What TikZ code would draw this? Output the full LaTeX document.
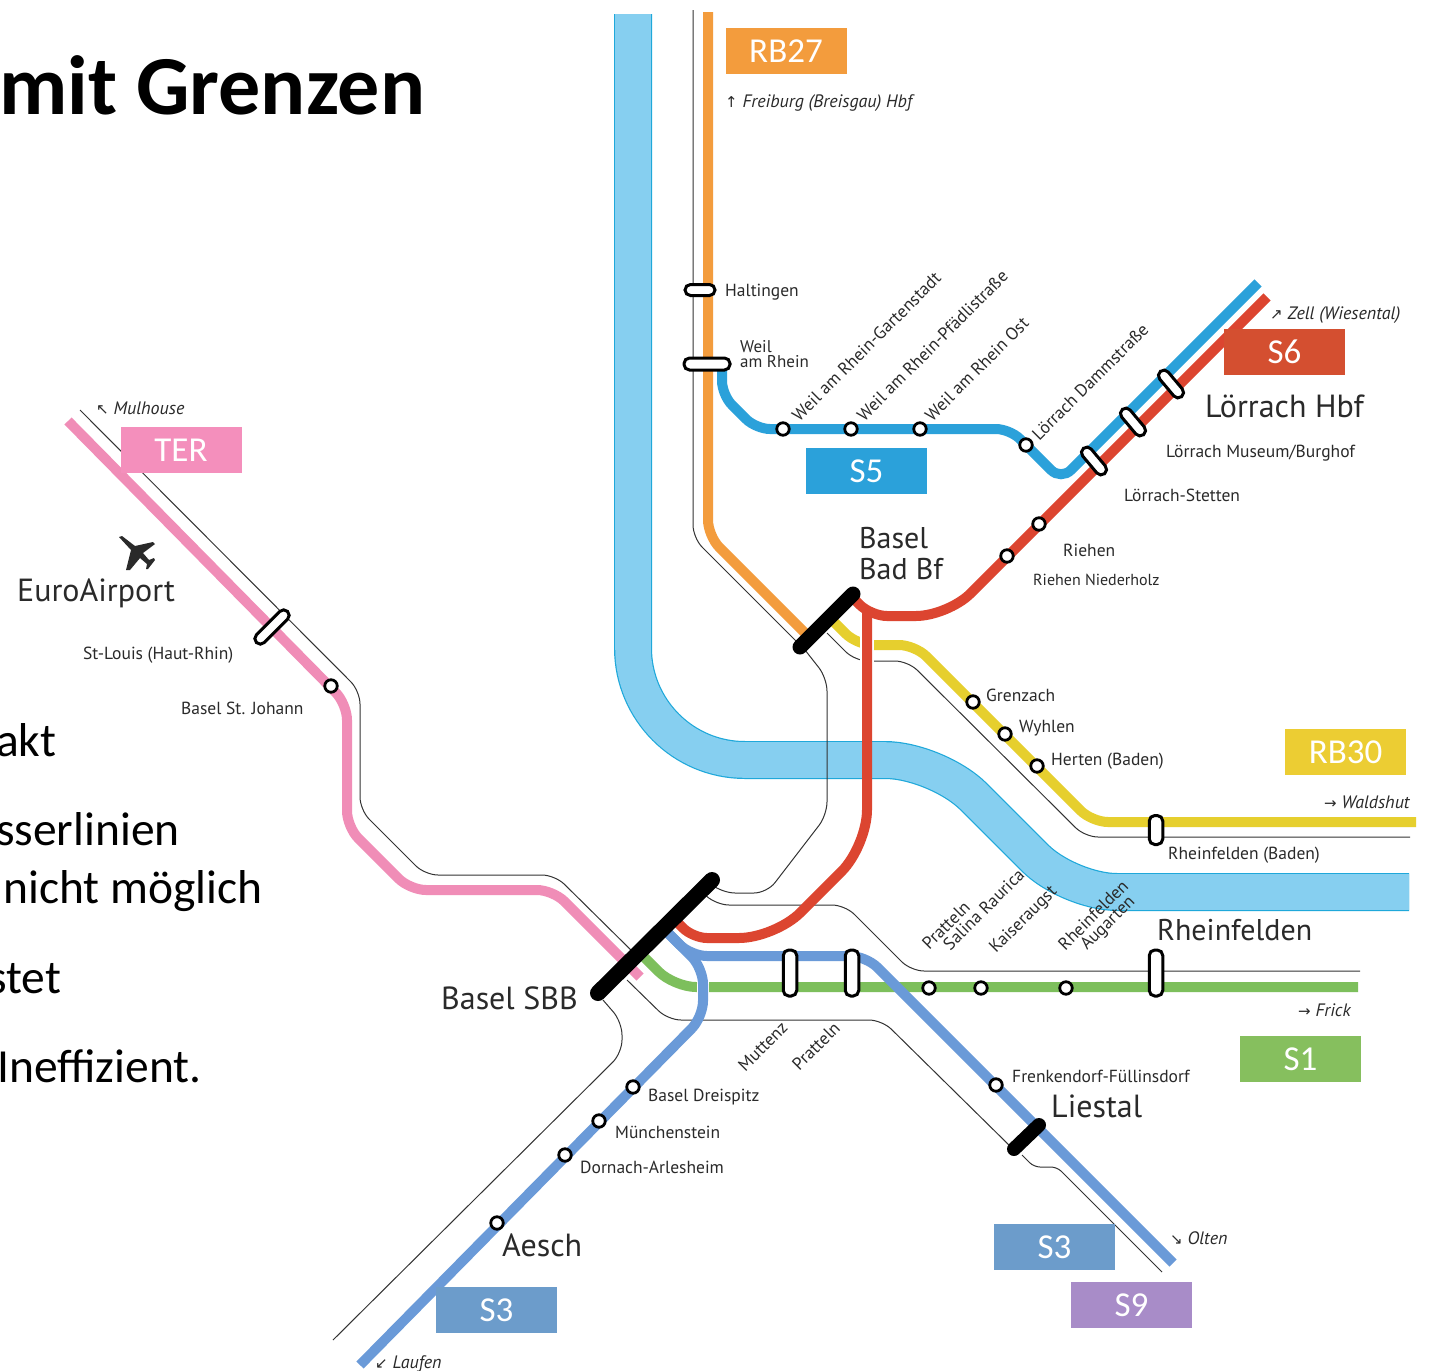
\documentclass[tikz,border=0pt]{standalone}
\usepackage{fontspec}
\setmainfont{Carlito}
\newfontfamily\mapf{PT Sans}
\newfontfamily\arrowf{DejaVu Sans}
\definecolor{riverfill}{HTML}{86CFF0}
\definecolor{riveredge}{HTML}{1FA8DA}
\definecolor{cS5}{HTML}{2BA1DA}
\definecolor{cOrange}{HTML}{F39C3D}
\definecolor{cRed}{HTML}{DC4530}
\definecolor{cYellow}{HTML}{E6CF2E}
\definecolor{cPink}{HTML}{F08DB7}
\definecolor{cGreen}{HTML}{7DBF5C}
\definecolor{cBlue}{HTML}{6A9AD8}
\definecolor{bTER}{HTML}{F48FBC}
\definecolor{bRB}{HTML}{F39C3D}
\definecolor{bS6}{HTML}{D44F30}
\definecolor{bRBt}{HTML}{ECCD33}
\definecolor{bS1}{HTML}{86BF5E}
\definecolor{bS3}{HTML}{6C9CCB}
\definecolor{bS9}{HTML}{A88CC8}
\definecolor{txt}{HTML}{2A2A2A}
\tikzset{
  thinline/.style={draw=black!80,line width=1.0pt,rounded corners=13pt},
  railline/.style={line width=10pt,rounded corners=16pt,line cap=butt},
  halo/.style={draw=white,line width=13.5pt},
  bar/.style={draw=black,line width=15pt,line cap=round},
  halt/.style={circle,draw=black,fill=white,line width=2.8pt,minimum size=12.5pt,inner sep=0pt},
  stad/.style={draw=black,fill=white,line width=3pt,inner sep=0pt,rounded corners=5.5pt},
  big/.style={text=txt,font=\mapf\fontsize{32}{32}\selectfont,anchor=west,inner sep=0pt},
  small/.style={text=txt,font=\mapf\fontsize{17.5}{17.5}\selectfont,anchor=west,inner sep=0pt},
  dirn/.style={text=txt,font=\mapf\itshape\fontsize{18}{18}\selectfont,anchor=west,inner sep=0pt},
  slant/.style={small,rotate=45},
  tagbox/.style={minimum width=121pt,minimum height=46pt,inner sep=0pt,text=white,font=\fontsize{35}{35}\selectfont},
  slide/.style={text=black,font=\fontsize{47.5}{47.5}\selectfont,anchor=base west,inner sep=0pt}
}
\newcommand{\dirarrow}[1]{{\arrowf\fontsize{15}{15}\selectfont #1}}
\begin{document}
\begin{tikzpicture}[x=1pt,y=-1pt]
\useasboundingbox (0,0) rectangle (1433,1371);
\clip (0,0) rectangle (1433,1371);
\fill[white] (0,0) rectangle (1433,1371);
% river
\foreach \wd/\col in {38pt/riveredge,35.6pt/riverfill}{
  \draw[line width=\wd,draw=\col,rounded corners=112pt] (633,14) -- (633,760)
     [rounded corners=52pt] -- (937,760) [rounded corners=48pt] -- (1069,892) -- (1409,892);
}
% thin track lines
\draw[thinline] (693,10) -- (693,538) -- (800,645);
\draw[thinline] (805,650) -- (827,678) -- (827,815) -- (767,893) -- (722,893) -- (706,880);
\draw[thinline] (827,633) -- (855,661) -- (908,661) -- (1085,837) -- (1410,837);
\draw[thinline] (700,890) -- (716,905) -- (845,905) -- (911,971) -- (1360,971);
\draw[thinline] (627,980) -- (668,1020) -- (882,1020) -- (1012,1148);
\draw[thinline,rounded corners=6pt] (1022,1155) -- (1034,1167) -- (1057,1167) -- (1162,1272);
\draw[thinline] (80,410) -- (360,691) -- (360,810) -- (425,875) -- (555,875) -- (636,955);
\draw[thinline] (603,1000) -- (622,1022) -- (622,1053) -- (333,1340);
% lines
\draw[railline,cPink] (68,421) -- (347,704) -- (347,827) -- (410,890) -- (553,890) -- (640,977);
\draw[railline,cOrange] (708,12) -- (708,536) -- (805,633);
\draw[railline,cYellow] (832,620) -- (857,645) -- (915,645) -- (1092,822) -- (1416,822);
\draw[halo] (867,630) -- (867,672);
\draw[railline,cRed] (855,600) -- (871,616) [rounded corners=32pt] -- (948,616) -- (1267,297);
\draw[railline,cRed] (867,607) [rounded corners=36pt] -- (867,846) -- (775,938) [rounded corners=14pt] -- (693,938) -- (672,917);
\draw[railline,cGreen] (640,953) [rounded corners=22pt] -- (674,987) -- (1358,987);
\draw[draw=white,line width=12.5pt] (703,975) -- (703,1000);
\draw[railline,cBlue] (665,930) -- (691,956) -- (866,956) -- (1173,1263);
\draw[railline,cBlue] (665,930) -- (703,968) -- (703,1017) -- (360,1365);
\draw[railline,cS5] (722,360) [rounded corners=14pt] -- (722,395) -- (756,429) -- (1010,429) -- (1061,480) -- (1258,283);
% heavy station bars
\draw[bar] (800,647) -- (853,594);
\draw[bar,line width=16pt] (598,993) -- (712,880);
\draw[bar,line width=14pt] (1014,1149) -- (1039,1125);
% long stops
\node[stad,minimum width=30pt,minimum height=11pt] (sHaltingen) at (700,290) {};
\node[stad,minimum width=46pt,minimum height=12pt] (sWeil) at (707,364) {};
\node[stad,minimum width=44pt,minimum height=11pt,rotate=45] (sStLouis) at (272,627) {};
\node[stad,minimum width=33pt,minimum height=11pt,rotate=-50] (sStetten) at (1094,461) {};
\node[stad,minimum width=33pt,minimum height=11pt,rotate=-50] (sMuseum) at (1133,422) {};
\node[stad,minimum width=33pt,minimum height=11pt,rotate=-50] (sHbf) at (1171,384) {};
\node[stad,minimum width=13.5pt,minimum height=29pt] (sRhB) at (1156,830) {};
\node[stad,minimum width=13.5pt,minimum height=46pt] (sRh) at (1156,973) {};
\node[stad,minimum width=13.5pt,minimum height=46pt] (sMuttenz) at (790,973) {};
\node[stad,minimum width=13.5pt,minimum height=46pt] (sPratteln) at (852,973) {};
% halts
\foreach \nm/\px/\py in {a/331/686,b/783/429,c/851/429,d/920/429,e/1026/445,f/1039/524,g/1007/556,h/973/702,i/1005/734,j/1037/766,k/929/988,l/981/988,m/1066/988,n/996/1085,o/633/1087,p/599/1121,q/565/1155,r/497/1223}{
  \node[halt] (h\nm) at (\px,\py) {};
}
% aeroplane
\fill[txt] (119,537) -- (122,536) -- (135,546) -- (153,542) -- (155,544) -- (143,553) -- (149,560) -- (154,558) -- (155,560) -- (148,569) -- (146,569) -- (147,564) -- (140,558) -- (130,570) -- (126,570) -- (131,550) -- cycle;
% slide text
\node[anchor=base west,inner sep=0pt,font=\bfseries\fontsize{84}{84}\selectfont] (title) at (-1,114) {mit Grenzen};
\node[slide] (t1) at (-4,756) {akt};
\node[slide] (t2) at (-4,845) {sserlinien};
\node[slide] (t3) at (3,903) {nicht möglich};
\node[slide] (t4) at (-12,993) {stet};
\node[slide] (t5) at (-3,1082) {Ineffizient.};
% labels
\node[dirn] (lFreiburg) at (725,103) {\dirarrow{↑} Freiburg (Breisgau) Hbf};
\node[small] (lHalt) at (725,292) {Haltingen};
\node[small,align=left,font=\mapf\fontsize{17}{15}\selectfont] (lWeil) at (740,354.5) {Weil\\am Rhein};
\node[slant] (l1) at (795,418) {Weil am Rhein-Gartenstadt};
\node[slant] (l2) at (860,418) {Weil am Rhein-Pfädlistraße};
\node[slant] (l3) at (928,418) {Weil am Rhein Ost};
\node[slant] (l4) at (1035,437) {Lörrach Dammstraße};
\node[dirn] (lZell) at (1270,315) {\dirarrow{↗} Zell (Wiesental)};
\node[big] (lHbf) at (1205,406) {Lörrach Hbf};
\node[small] (lMuseum) at (1166,453) {Lörrach Museum/Burghof};
\node[small] (lStetten) at (1124,495) {Lörrach-Stetten};
\node[small] (lRiehen) at (1063,550) {Riehen};
\node[small,font=\mapf\fontsize{16}{16}\selectfont] (lNieder) at (1033,580) {Riehen Niederholz};
\node[big,align=left,font=\mapf\fontsize{30}{31}\selectfont] (lBad) at (859,554) {Basel\\Bad Bf};
\node[small] (lGren) at (986,695) {Grenzach};
\node[small] (lWyh) at (1019,728) {Wyhlen};
\node[small] (lHert) at (1051,761) {Herten (Baden)};
\node[dirn] (lWald) at (1324,802) {\dirarrow{→} Waldshut};
\node[small] (lRhB) at (1168,855) {Rheinfelden (Baden)};
\node[big,font=\mapf\fontsize{30}{30}\selectfont] (lRh) at (1157,930) {Rheinfelden};
\node[dirn] (lFrick) at (1298,1010) {\dirarrow{→} Frick};
\node[small] (lFren) at (1012,1076) {Frenkendorf-Füllinsdorf};
\node[big] (lLiestal) at (1051,1106) {Liestal};
\node[dirn] (lOlten) at (1170,1238) {\dirarrow{↘} Olten};
\node[big] (lAesch) at (502,1245) {Aesch};
\node[small] (lDrei) at (648,1097) {Basel Dreispitz};
\node[small] (lMuen) at (615,1132) {Münchenstein};
\node[small] (lDorn) at (580,1167) {Dornach-Arlesheim};
\node[big] (lSBB) at (441,998) {Basel SBB};
\node[dirn] (lLaufen) at (375,1364) {\dirarrow{↙} Laufen};
\node[slant] (l5) at (741,1068) {Muttenz};
\node[slant] (l6) at (795,1067) {Pratteln};
\node[slant] (l7) at (925,946) {Pratteln};
\node[slant] (l8) at (946,947) {Salina Raurica};
\node[slant] (l9) at (993,951) {Kaiseraugst};
\node[slant] (l10) at (1061,947) {Rheinfelden};
\node[slant] (l11) at (1084,948) {Augarten};
\node[small] (lStL) at (83,655) {St-Louis (Haut-Rhin)};
\node[small] (lJoh) at (181,708) {Basel St. Johann};
\node[big] (lEuro) at (17,593) {EuroAirport};
\node[dirn] (lMul) at (96,408) {\dirarrow{↖} Mulhouse};
% line tags
\node[tagbox,fill=bTER] (bTer) at (181,450) {TER};
\node[tagbox,fill=bRB] (bRb) at (786,51) {RB27};
\node[tagbox,fill=cS5] (bSf) at (866.5,471) {S5};
\node[tagbox,fill=bS6] (bSs) at (1284.5,352) {S6};
\node[tagbox,fill=bRBt] (bRbt) at (1345.5,752) {RB30};
\node[tagbox,fill=bS1] (bSo) at (1300.5,1059) {S1};
\node[tagbox,fill=bS3] (bStA) at (1054.5,1247) {S3};
\node[tagbox,fill=bS9] (bSn) at (1131.5,1305) {S9};
\node[tagbox,fill=bS3] (bStB) at (496.5,1310) {S3};
\end{tikzpicture}
\end{document}
